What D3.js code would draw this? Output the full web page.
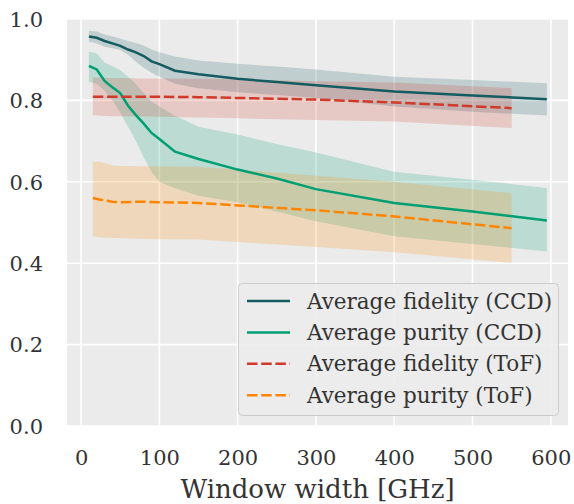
<!DOCTYPE html>
<html>
<head>
<meta charset="utf-8">
<script src="https://cdn.jsdelivr.net/npm/d3@7"></script>
<style>
  html, body { margin: 0; padding: 0; background: #ffffff; }
  svg { display: block; }
</style>
</head>
<body>
<svg id="chart" width="574" height="504"></svg>
<script>
// ---- Data ----
const ccdX = [10, 20, 30, 40, 50, 60, 70, 80, 90, 100, 120, 150, 200, 250, 300, 400, 500, 595];
const fidCCD      = [0.957, 0.954, 0.946, 0.940, 0.934, 0.925, 0.918, 0.909, 0.896, 0.889, 0.873, 0.864, 0.853, 0.845, 0.837, 0.822, 0.812, 0.803];
const fidCCDUpper = [0.971, 0.969, 0.962, 0.957, 0.952, 0.946, 0.941, 0.935, 0.925, 0.918, 0.908, 0.898, 0.890, 0.883, 0.876, 0.858, 0.850, 0.842];
const fidCCDLower = [0.944, 0.940, 0.932, 0.928, 0.924, 0.912, 0.895, 0.880, 0.868, 0.858, 0.841, 0.830, 0.820, 0.813, 0.806, 0.785, 0.772, 0.763];
const purCCD      = [0.885, 0.876, 0.848, 0.832, 0.818, 0.787, 0.764, 0.743, 0.720, 0.705, 0.674, 0.656, 0.630, 0.608, 0.582, 0.548, 0.527, 0.505];
const purCCDUpper = [0.920, 0.915, 0.893, 0.884, 0.875, 0.858, 0.840, 0.818, 0.797, 0.785, 0.762, 0.735, 0.716, 0.693, 0.672, 0.625, 0.605, 0.585];
const purCCDLower = [0.846, 0.840, 0.824, 0.800, 0.770, 0.735, 0.700, 0.660, 0.625, 0.600, 0.584, 0.566, 0.550, 0.527, 0.503, 0.466, 0.447, 0.429];

const tofX = [15, 25, 40, 50, 75, 100, 150, 200, 300, 400, 550];
const fidToF      = [0.809, 0.809, 0.809, 0.809, 0.809, 0.809, 0.808, 0.806, 0.802, 0.795, 0.781];
const fidToFUpper = [0.856, 0.856, 0.855, 0.855, 0.854, 0.854, 0.853, 0.852, 0.847, 0.844, 0.830];
const fidToFLower = [0.764, 0.762, 0.761, 0.761, 0.761, 0.760, 0.758, 0.756, 0.752, 0.748, 0.732];
const purToF      = [0.560, 0.556, 0.551, 0.550, 0.551, 0.550, 0.548, 0.542, 0.530, 0.515, 0.486];
const purToFUpper = [0.650, 0.649, 0.640, 0.639, 0.638, 0.638, 0.637, 0.630, 0.615, 0.600, 0.572];
const purToFLower = [0.467, 0.463, 0.462, 0.461, 0.460, 0.459, 0.458, 0.452, 0.440, 0.427, 0.401];

const xTicks = [0, 100, 200, 300, 400, 500, 600];
const yTicks = [0.0, 0.2, 0.4, 0.6, 0.8, 1.0];
const xLabel = "Window width [GHz]";
const seriesNames = ["Average fidelity (CCD)", "Average purity (CCD)", "Average fidelity (ToF)", "Average purity (ToF)"];

// ---- Layout ----
const svg = d3.select("#chart");
const plot = { left: 67, right: 568, top: 19, bottom: 426 };
const x = d3.scaleLinear().domain([-18, 622]).range([plot.left, plot.right]);
const y = d3.scaleLinear().domain([0, 1]).range([plot.bottom, plot.top]);
const font = "'DejaVu Serif', serif";
const textColor = "#333333";

svg.append("rect")
  .attr("x", plot.left).attr("y", plot.top)
  .attr("width", plot.right - plot.left).attr("height", plot.bottom - plot.top)
  .attr("fill", "#ebebeb");

// grid
const grid = svg.append("g");
grid.selectAll("line.gx").data(xTicks).join("line")
  .attr("x1", d => x(d)).attr("x2", d => x(d))
  .attr("y1", plot.top).attr("y2", plot.bottom)
  .attr("stroke", "#ffffff").attr("stroke-width", 1.6);
grid.selectAll("line.gy").data(yTicks).join("line")
  .attr("y1", d => y(d)).attr("y2", d => y(d))
  .attr("x1", plot.left).attr("x2", plot.right)
  .attr("stroke", "#ffffff").attr("stroke-width", 1.6);

const series = [
  { name: seriesNames[0], xs: ccdX, mean: fidCCD, lo: fidCCDLower, hi: fidCCDUpper, color: "#145c61", dash: null },
  { name: seriesNames[1], xs: ccdX, mean: purCCD, lo: purCCDLower, hi: purCCDUpper, color: "#009e73", dash: null },
  { name: seriesNames[2], xs: tofX, mean: fidToF, lo: fidToFLower, hi: fidToFUpper, color: "#d03a2b", dash: "10.5,3.7" },
  { name: seriesNames[3], xs: tofX, mean: purToF, lo: purToFLower, hi: purToFUpper, color: "#ff8500", dash: "10.5,3.7" }
];

svg.append("clipPath").attr("id", "clip").append("rect")
  .attr("x", plot.left).attr("y", plot.top)
  .attr("width", plot.right - plot.left).attr("height", plot.bottom - plot.top);

const g = svg.append("g").attr("clip-path", "url(#clip)");

series.forEach(s => {
  const pts = s.xs.map((xv, i) => ({ x: xv, lo: s.lo[i], hi: s.hi[i] }));
  const area = d3.area().x(d => x(d.x)).y0(d => y(d.lo)).y1(d => y(d.hi));
  g.append("path").datum(pts).attr("d", area)
    .attr("fill", s.color).attr("fill-opacity", 0.2).attr("stroke", "none");
});
series.forEach(s => {
  const pts = s.xs.map((xv, i) => ({ x: xv, y: s.mean[i] }));
  const line = d3.line().x(d => x(d.x)).y(d => y(d.y));
  g.append("path").datum(pts).attr("d", line)
    .attr("fill", "none").attr("stroke", s.color).attr("stroke-width", 2.5)
    .attr("stroke-dasharray", s.dash);
});

// axes (tick labels only)
const xAxis = d3.axisBottom(x).tickValues(xTicks).tickSize(0).tickPadding(0).tickFormat(d3.format("d"));
const xg = svg.append("g").attr("transform", `translate(0,${plot.bottom})`).call(xAxis);
xg.select(".domain").remove();
xg.selectAll("text").attr("dy", null).attr("y", 39)
  .attr("font-family", font).attr("font-size", 21).attr("fill", textColor);

const yAxis = d3.axisLeft(y).tickValues(yTicks).tickSize(0).tickPadding(0).tickFormat(d3.format(".1f"));
const yg = svg.append("g").attr("transform", `translate(${plot.left},0)`).call(yAxis);
yg.select(".domain").remove();
yg.selectAll("text").attr("x", -24).attr("dy", "0.35em")
  .attr("font-family", font).attr("font-size", 21).attr("fill", textColor);

svg.append("text")
  .attr("x", (plot.left + plot.right) / 2).attr("y", 498)
  .attr("text-anchor", "middle")
  .attr("font-family", font).attr("font-size", 26).attr("fill", textColor)
  .text(xLabel);

// legend
const leg = svg.append("g");
leg.append("rect")
  .attr("x", 238.5).attr("y", 283.5).attr("width", 320).attr("height", 132).attr("rx", 4)
  .attr("fill", "#ececec").attr("fill-opacity", 0.9).attr("stroke", "#cccccc").attr("stroke-width", 1);
series.forEach((s, i) => {
  const cy = 301 + i * 31.4;
  leg.append("line").attr("x1", 247).attr("x2", 290).attr("y1", cy).attr("y2", cy)
    .attr("stroke", s.color).attr("stroke-width", 2.5).attr("stroke-dasharray", s.dash);
  leg.append("text").attr("x", 307).attr("y", cy).attr("dy", "0.35em")
    .attr("font-family", font).attr("font-size", 21.5).attr("fill", textColor)
    .text(s.name);
});
</script>
</body>
</html>
